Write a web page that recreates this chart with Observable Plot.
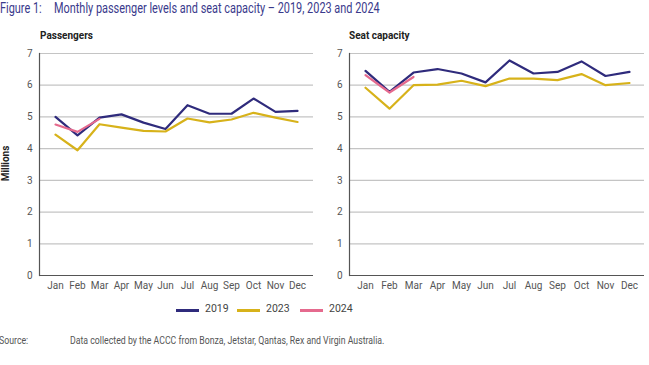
<!DOCTYPE html>
<html><head><meta charset="utf-8">
<script src="https://cdn.jsdelivr.net/npm/d3@7"></script>
<script src="https://cdn.jsdelivr.net/npm/@observablehq/plot@0.6"></script>
<style>
body{margin:0;background:#fff;font-family:Roboto,"Noto Sans",sans-serif;}
#root{position:relative;width:649px;height:365px;overflow:hidden;background:#fff;}
.abs{position:absolute;white-space:nowrap;}
#title{left:0;top:0;font-size:14px;color:#3a3a8c;}
#title .cond{display:inline-block;transform:scaleX(0.78);transform-origin:left center;}
#source .cond{display:inline-block;transform:scaleX(0.795);transform-origin:left center;}
.ptitle{font-size:10px;font-weight:bold;color:#222;}
#millions{left:-12px;top:158px;font-size:10px;font-weight:bold;color:#222;transform:rotate(-90deg);}
#legend{left:0;top:302px;width:649px;}
#source{left:-1px;top:334px;font-size:11px;color:#555;}
</style></head>
<body><div id="root">
<div id="title" class="abs"><span class="cond">Figure 1:</span><span class="cond" style="position:absolute;left:54px">Monthly passenger levels and seat capacity – 2019, 2023 and 2024</span></div>
<div class="abs ptitle" style="left:40px;top:30px">Passengers</div>
<div class="abs ptitle" style="left:349px;top:30px">Seat capacity</div>
<div id="millions" class="abs">Millions</div>
<div id="left" class="abs" style="left:0;top:45px"></div>
<div id="right" class="abs" style="left:320px;top:45px"></div>
<div id="legend" class="abs"></div>
<div id="source" class="abs"><span class="cond">Source:</span><span class="cond" style="position:absolute;left:71px">Data collected by the ACCC from Bonza, Jetstar, Qantas, Rex and Virgin Australia.</span></div>
</div>
<script>
const months = ["Jan","Feb","Mar","Apr","May","Jun","Jul","Aug","Sep","Oct","Nov","Dec"];
const years = ["2019","2023","2024"];
const colors = ["#2f2b7c","#d7b21a","#e56a8e"];
const yTicks = [0,1,2,3,4,5,6,7];

const passengers2019 = [5.00,4.42,4.98,5.08,4.82,4.62,5.37,5.10,5.10,5.58,5.16,5.19];
const passengers2023 = [4.44,3.95,4.77,4.66,4.56,4.54,4.95,4.83,4.92,5.13,4.98,4.84];
const passengers2024 = [4.76,4.53,4.94];

const seats2019 = [6.45,5.79,6.40,6.51,6.37,6.09,6.78,6.37,6.42,6.75,6.29,6.42];
const seats2023 = [5.92,5.26,6.00,6.02,6.14,5.97,6.21,6.21,6.16,6.35,6.00,6.07];
const seats2024 = [6.32,5.77,6.26];

function rows(series){
  const out=[];
  series.forEach((vals,i)=>vals.forEach((v,j)=>out.push({year:years[i],month:months[j],value:v})));
  return out;
}

function panel(data, width, marginLeft, marginRight){
  return Plot.plot({
    width, height: 255,
    marginLeft, marginRight, marginTop: 8, marginBottom: 25,
    style:{fontFamily:"Roboto, sans-serif", fontSize:"10px", color:"#555", background:"transparent"},
    x:{type:"point", domain:months, padding:0.5, label:null},
    y:{domain:[0,7], label:null},
    color:{domain:years, range:colors},
    marks:[
      Plot.ruleY(yTicks.filter(d=>d>0), {stroke:"#c4c4c4", strokeWidth:1.2}),
      Plot.axisX({tickSize:0, tickPadding:6, fontSize:10, fill:"#555", label:null}),
      Plot.axisY({ticks:yTicks, tickFormat:d3.format("d"), tickSize:0, tickPadding:7, fontSize:10, fill:"#555", label:null}),
      Plot.line(data, {x:"month", y:"value", z:"year", stroke:"year", strokeWidth:2.2, curve:"linear"}),
      Plot.ruleY([0], {stroke:"#555", strokeWidth:1.2}),
      Plot.frame({anchor:"left", stroke:"#555", strokeWidth:1.2})
    ]
  });
}

document.getElementById("left").appendChild(panel(rows([passengers2019,passengers2023,passengers2024]), 320, 39, 7));
document.getElementById("right").appendChild(panel(rows([seats2019,seats2023,seats2024]), 329, 29, 5));

const legend = d3.select("#legend");
const lx=[176,237,300];
years.forEach((y,i)=>{
  legend.append("div").style("position","absolute").style("left",lx[i]+"px").style("top","7px")
    .style("width","23px").style("height","2.5px").style("background",colors[i]);
  legend.append("div").style("position","absolute").style("left",(lx[i]+29)+"px").style("top","0px")
    .style("font-size","10.5px").style("color","#444").text(y);
});
</script>
</body></html>
